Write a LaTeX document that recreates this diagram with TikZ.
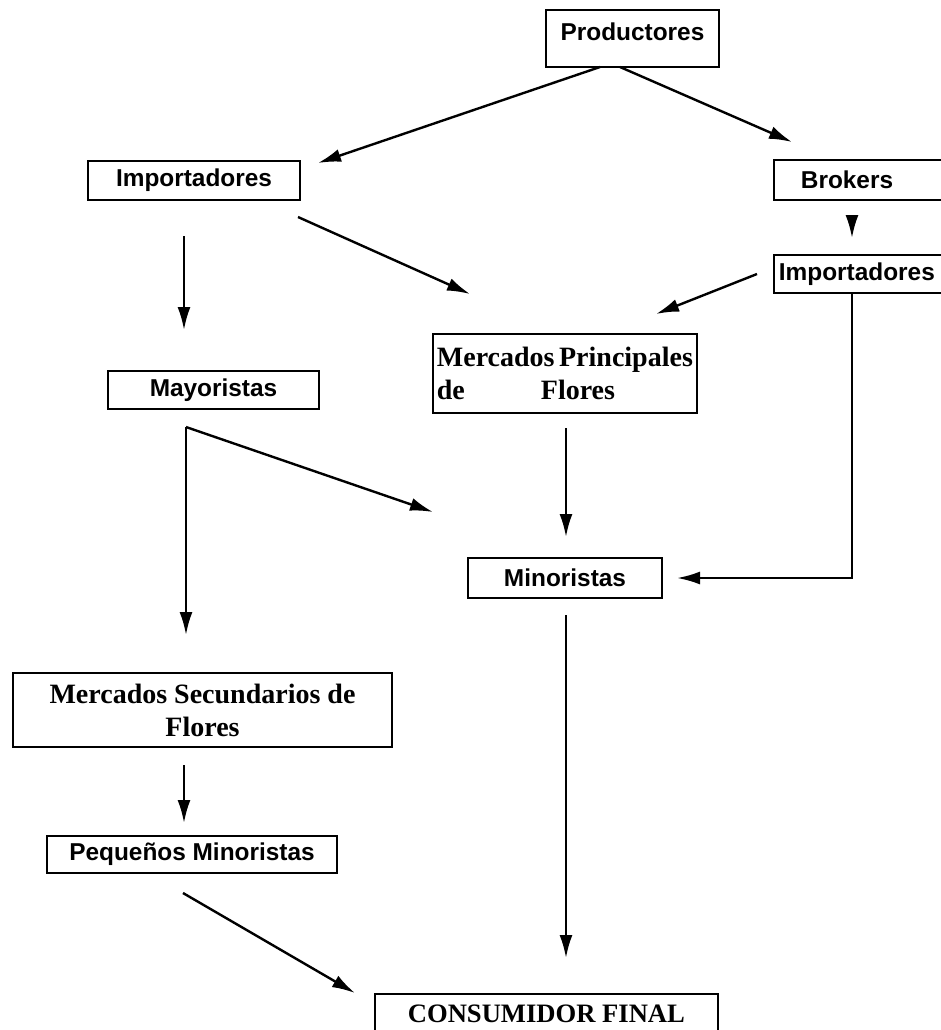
\documentclass[tikz,border=0pt]{standalone}
\usepackage{fontspec}
\setmainfont{Liberation Serif}
\setsansfont{Liberation Sans}
\usetikzlibrary{arrows.meta}

\begin{document}
\begin{tikzpicture}[x=0.5pt,y=-0.5pt,
  caja/.style={draw, line width=0.9pt, inner sep=2pt, font=\sffamily\bfseries\fontsize{12.2}{14}\selectfont},
  cajaserif/.style={caja, font=\rmfamily\bfseries\fontsize{14}{16.5}\selectfont},
  flecha/.style={-{Latex[length=11.5pt,width=6.5pt]}, line width=1.2pt}]
\clip (0,0) rectangle (941,1030);

\node[caja, minimum width=86.5pt, text height=13pt, text depth=11.5pt] (prod) at (632.5,38.5) {Productores};
\node[caja, minimum width=106pt, minimum height=19.5pt] (impL) at (194,180.5) {Importadores};
\node[caja, anchor=west, inner xsep=13.5pt, text width=66.5pt, align=left, minimum height=20pt] (brok) at (773,180) {Brokers};
\node[caja, anchor=west, inner xsep=2.5pt, text width=88.5pt, align=left, minimum height=19pt] (impR) at (773,274) {Importadores};
\node[cajaserif, anchor=north west, text width=128pt, align=left, minimum height=39.5pt] (merP) at (432,333) {Mercados\hfill Principales\\de\hspace{38pt}Flores};
\node[caja, minimum width=105.5pt, minimum height=19pt] (mayo) at (213.5,390) {Mayoristas};
\node[caja, minimum width=97pt, minimum height=20pt] (mino) at (565,578) {Minoristas};
\node[cajaserif, minimum width=189.5pt, minimum height=37pt, align=center] (merS) at (202.5,710) {Mercados Secundarios de\\Flores};
\node[caja, minimum width=145pt, minimum height=18.5pt] (pequ) at (192,854.5) {Pequeños Minoristas};
\node[cajaserif, anchor=north west, minimum width=171.5pt, text height=12.5pt, text depth=10pt, font=\rmfamily\bfseries\fontsize{13.3}{15}\selectfont] (cons) at (374,993) {CONSUMIDOR FINAL};

\coordinate (a1) at (600,67);  \coordinate (a2) at (318,163);
\coordinate (b1) at (620,67);  \coordinate (b2) at (792,142);
\coordinate (c1) at (298,217); \coordinate (c2) at (470,294);
\coordinate (d1) at (184,236); \coordinate (d2) at (184,330);
\coordinate (e1) at (852,215); \coordinate (e2) at (852,238);
\coordinate (f1) at (757,274); \coordinate (f2) at (656,314);
\coordinate (g1) at (852,293); \coordinate (g2) at (852,578); \coordinate (g3) at (677,578);
\coordinate (h1) at (566,428); \coordinate (h2) at (566,537);
\coordinate (i1) at (186,427); \coordinate (i2) at (186,635); \coordinate (i3) at (433,512);
\coordinate (j1) at (184,765); \coordinate (j2) at (184,823);
\coordinate (k1) at (183,893); \coordinate (k2) at (355,993);
\coordinate (l1) at (566,615); \coordinate (l2) at (566,958);

\draw[flecha] (a1) -- (a2);
\draw[flecha] (b1) -- (b2);
\draw[flecha] (c1) -- (c2);
\draw[flecha] (d1) -- (d2);
\draw[flecha] (e1) -- (e2);
\draw[flecha] (f1) -- (f2);
\draw[flecha] (g1) -- (g2) -- (g3);
\draw[flecha] (h1) -- (h2);
\draw[flecha] (i1) -- (i2);
\draw[flecha] (i1) -- (i3);
\draw[flecha] (j1) -- (j2);
\draw[flecha] (k1) -- (k2);
\draw[flecha] (l1) -- (l2);
\end{tikzpicture}
\end{document}
